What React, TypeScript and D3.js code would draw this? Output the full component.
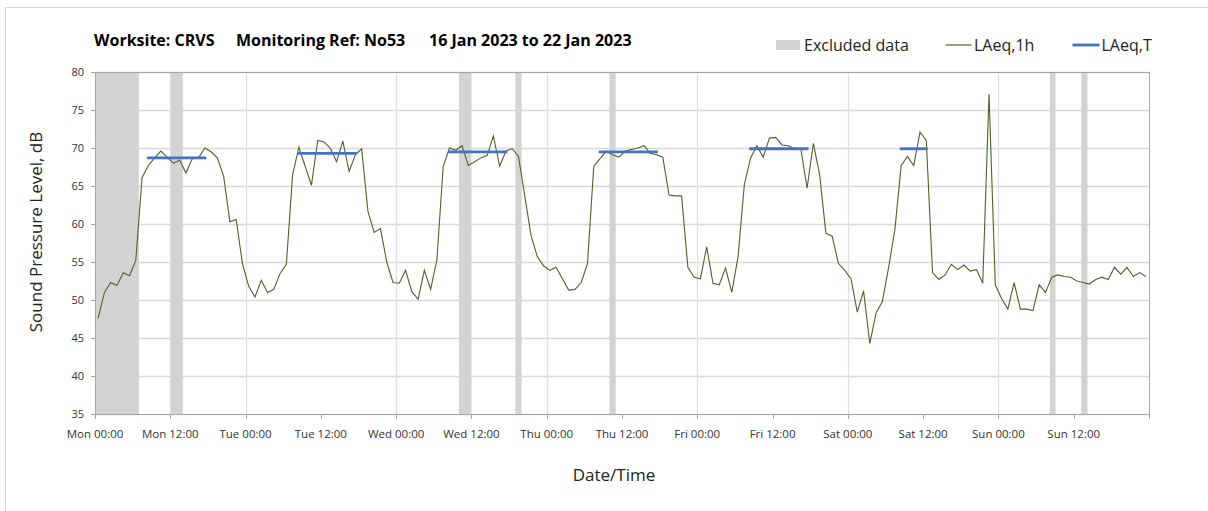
import React from "react";
import * as d3 from "d3";

// Hourly LAeq,1h values, Mon 16 Jan 2023 00:00 onwards (168 hours)
const laeq1h: number[] = [
  47.6, 51.0, 52.3, 51.9, 53.6, 53.2, 55.2, 66.1, 67.7, 68.7, 69.6, 68.8, 68.0, 68.4, 66.7, 68.6, 68.7, 70.0, 69.5, 68.7, 66.3, 60.3, 60.6, 54.8,
  51.8, 50.4, 52.6, 51.0, 51.4, 53.5, 54.7, 66.5, 70.1, 67.6, 65.1, 71.0, 70.8, 70.0, 68.2, 70.9, 66.9, 69.1, 69.9, 61.7, 58.9, 59.4, 55.0, 52.3,
  52.2, 53.9, 51.1, 50.1, 53.9, 51.4, 55.3, 67.6, 70.0, 69.7, 70.3, 67.7, 68.2, 68.7, 69.0, 71.6, 67.6, 69.6, 69.9, 68.9, 63.7, 58.5, 55.7, 54.5,
  53.9, 54.3, 52.8, 51.3, 51.4, 52.3, 54.8, 67.6, 68.6, 69.6, 69.1, 68.8, 69.6, 69.8, 70.0, 70.3, 69.3, 69.1, 68.8, 63.8, 63.7, 63.7, 54.3, 53.0,
  52.8, 57.0, 52.2, 52.0, 54.2, 51.0, 55.7, 65.2, 68.7, 70.3, 68.8, 71.3, 71.4, 70.4, 70.3, 69.9, 69.9, 64.7, 70.6, 66.5, 58.8, 58.4, 54.8, 53.9,
  52.8, 48.4, 51.2, 44.3, 48.3, 49.8, 54.3, 59.3, 67.7, 68.9, 67.7, 72.1, 71.0, 53.6, 52.7, 53.3, 54.7, 54.0, 54.6, 53.8, 54.0, 52.2, 77.1, 52.0,
  50.2, 48.8, 52.3, 48.8, 48.8, 48.6, 52.0, 51.0, 53.0, 53.3, 53.1, 53.0, 52.5, 52.3, 52.1, 52.7, 53.0, 52.7, 54.3, 53.4, 54.3, 53.1, 53.6, 53.1,
];

// LAeq,T daytime periods: first and last hour index, level
const periodStart: number[] = [8, 32, 56, 80, 104, 128];
const periodEnd: number[] = [17, 41, 65, 89, 113, 132];
const periodLevel: number[] = [68.7, 69.3, 69.5, 69.5, 69.9, 69.9];

// Excluded data ranges (hours from Mon 00:00)
const excludedStart: number[] = [0, 12, 58, 67, 82, 152.2, 157.2];
const excludedEnd: number[] = [7, 14, 60, 68, 83, 153.1, 158.2];

const xTickLabels: string[] = [
  "Mon 00:00", "Mon 12:00", "Tue 00:00", "Tue 12:00", "Wed 00:00", "Wed 12:00", "Thu 00:00",
  "Thu 12:00", "Fri 00:00", "Fri 12:00", "Sat 00:00", "Sat 12:00", "Sun 00:00", "Sun 12:00",
];
const yTicks: number[] = [35, 40, 45, 50, 55, 60, 65, 70, 75, 80];

const W = 1208;
const H = 511;
const L = 95, R = 1149, T = 72, B = 414;
const FONT = "'Open Sans', 'DejaVu Sans', sans-serif";

export default function App() {
  const x = d3.scaleLinear().domain([0, 168]).range([L, R]);
  const y = d3.scaleLinear().domain([35, 80]).range([B, T]);
  const line = d3
    .line<number>()
    .x((_, i) => x(i + 0.5))
    .y((d) => y(d));

  const gridColor = "#d9d9d9";
  const axisColor = "#a6a6a6";

  return (
    <svg width={W} height={H} style={{ position: "absolute", left: 0, top: 0 }}>
      <rect x={0} y={0} width={W} height={H} fill="#fff" />
      <rect x={5.5} y={7.5} width={W + 20} height={H + 20} fill="none" stroke="#d9d9d9" />
      <text x={94} y={46} fontFamily={FONT} fontSize={16} fontWeight="bold" fill="#000">Worksite: CRVS</text>
      <text x={236} y={46} fontFamily={FONT} fontSize={16} fontWeight="bold" fill="#000">Monitoring Ref: No53</text>
      <text x={429} y={46} fontFamily={FONT} fontSize={16} fontWeight="bold" fill="#000">16 Jan 2023 to 22 Jan 2023</text>

      {/* legend */}
      <rect x={776} y={40} width={24} height={10} fill="#d3d3d3" />
      <text x={804} y={51} fontFamily={FONT} fontSize={16} fill="#222">Excluded data</text>
      <line x1={945.5} x2={971.5} y1={45} y2={45} stroke="#4f6228" strokeWidth={1.2} />
      <text x={974} y={51} fontFamily={FONT} fontSize={16} fill="#222">LAeq,1h</text>
      <line x1={1072.5} x2={1099.5} y1={45} y2={45} stroke="#4472c4" strokeWidth={2.8} />
      <text x={1101.5} y={51} fontFamily={FONT} fontSize={16} fill="#222">LAeq,T</text>

      {/* horizontal grid */}
      {yTicks.map((v) => (
        <line key={"hg" + v} x1={L} x2={R} y1={Math.round(y(v)) + 0.5} y2={Math.round(y(v)) + 0.5} stroke={gridColor} strokeWidth={1.3} />
      ))}
      {/* vertical grid at day boundaries */}
      {xTickLabels.map((_, i) =>
        i % 2 === 0 && i > 0 ? (
          <line key={"vg" + i} x1={Math.round(x(i * 12)) + 0.5} x2={Math.round(x(i * 12)) + 0.5} y1={T} y2={B} stroke="#e0e0e0" strokeWidth={1.3} />
        ) : null
      )}
      {/* excluded bands */}
      {excludedStart.map((s, i) => (
        <rect key={"ex" + i} x={x(s)} y={T} width={x(excludedEnd[i]) - x(s)} height={B - T} fill="#d3d3d3" />
      ))}
      {/* frame */}
      <rect x={L + 0.5} y={T + 0.5} width={R - L} height={B - T} fill="none" stroke={axisColor} strokeWidth={1} />
      {/* y ticks */}
      {yTicks.map((v) => (
        <g key={"yt" + v}>
          <line x1={L - 4} x2={L} y1={Math.round(y(v)) + 0.5} y2={Math.round(y(v)) + 0.5} stroke={axisColor} />
          <text x={84} y={y(v) + 4} textAnchor="end" fontFamily={FONT} fontSize={11} fill="#333">{v}</text>
        </g>
      ))}
      {/* x ticks */}
      {xTickLabels.map((lab, i) => (
        <g key={"xt" + i}>
          <line x1={Math.round(x(i * 12)) + 0.5} x2={Math.round(x(i * 12)) + 0.5} y1={B} y2={B + 5} stroke={axisColor} />
          <text x={x(i * 12)} y={438} textAnchor="middle" fontFamily={FONT} fontSize={11.5} fill="#333">{lab}</text>
        </g>
      ))}
      <line x1={R + 0.5} x2={R + 0.5} y1={B} y2={B + 5} stroke={axisColor} />

      {/* LAeq,1h line */}
      <path d={line(laeq1h) || ""} fill="none" stroke="#4f6228" strokeWidth={1.1} />
      {/* LAeq,T segments */}
      {periodStart.map((s, i) => (
        <line key={"p" + i} x1={x(s + 0.5)} x2={x(periodEnd[i] + 0.5)} y1={y(periodLevel[i])} y2={y(periodLevel[i])} stroke="#4472c4" strokeWidth={2.8} strokeLinecap="square" />
      ))}

      {/* axis titles */}
      <text transform={`translate(42, 232) rotate(-90)`} textAnchor="middle" fontFamily={FONT} fontSize={17} fill="#222">Sound Pressure Level, dB</text>
      <text x={614} y={481} textAnchor="middle" fontFamily={FONT} fontSize={17} fill="#222">Date/Time</text>
    </svg>
  );
}
